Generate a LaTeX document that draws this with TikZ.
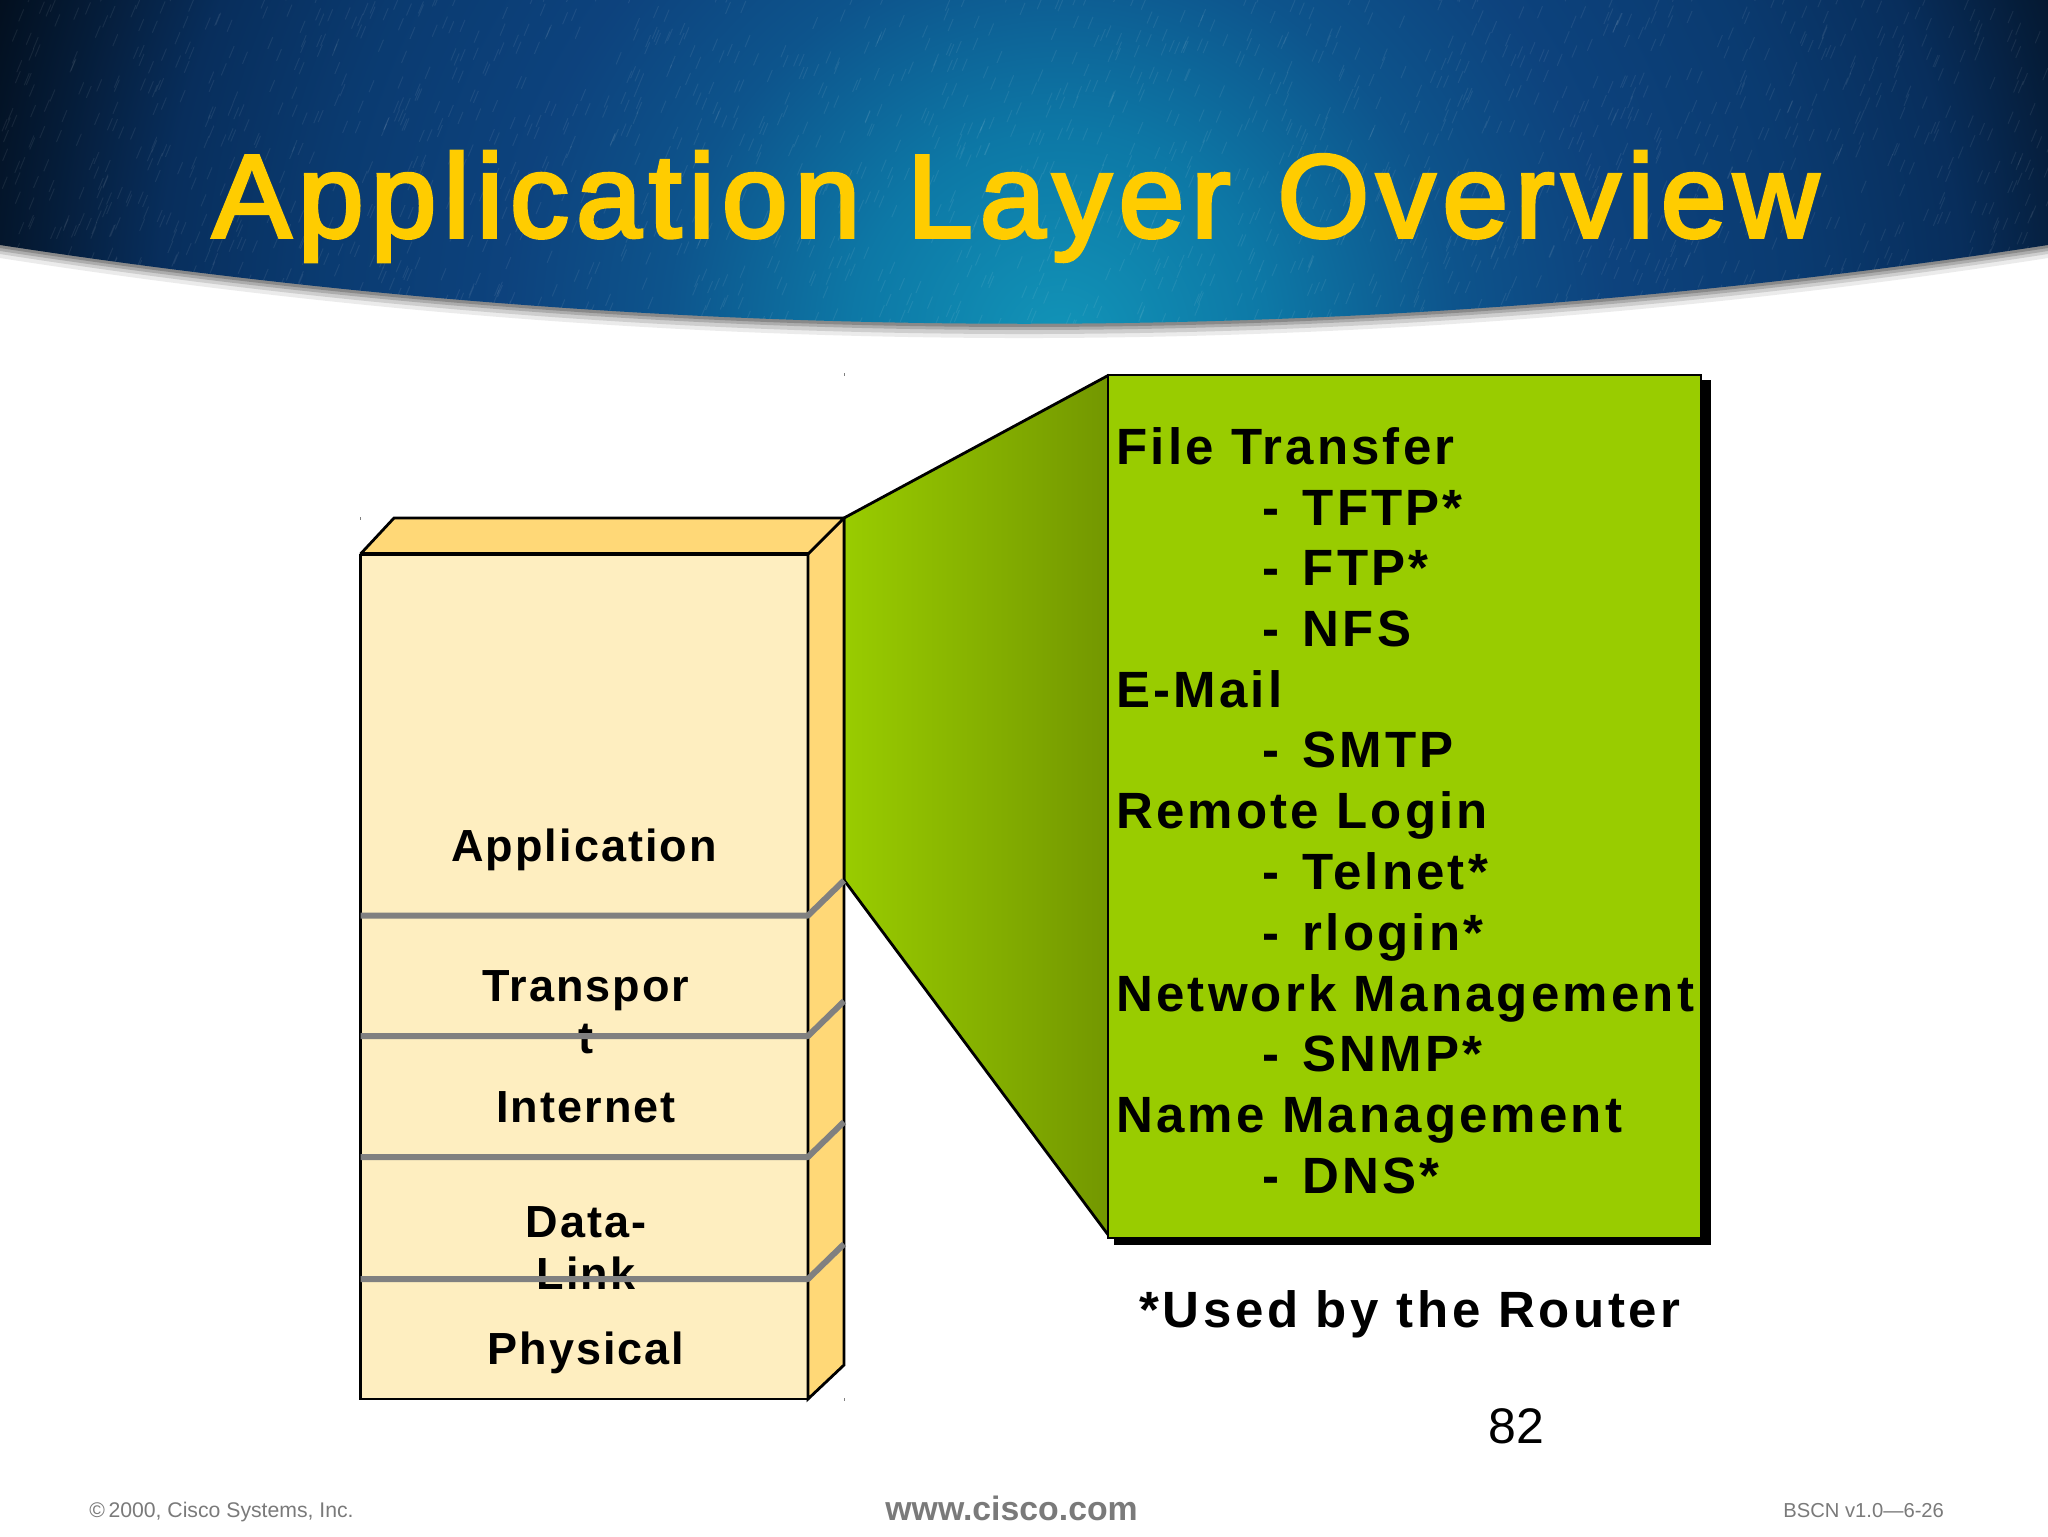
\documentclass[tikz,border=0pt]{standalone}
\usepackage{fontspec}
\setmainfont{Liberation Sans}
\newfontfamily\titlefont[LetterSpace=6,FakeBold=3]{Liberation Sans}
\newfontfamily\lblfont[LetterSpace=4.5]{Liberation Sans}
\newfontfamily\listfont[LetterSpace=6.2]{Liberation Sans}
\newfontfamily\notefont[LetterSpace=7]{Liberation Sans}
\usetikzlibrary{calc}
\newcommand{\dashgap}{-\hspace{3pt} }
\definecolor{hdrgold}{HTML}{FFCC00}
\definecolor{frontc}{HTML}{FEEEC0}
\definecolor{sidec}{HTML}{FFD877}
\definecolor{greenc}{HTML}{99CC00}
\definecolor{greend}{HTML}{739700}
\definecolor{laygray}{HTML}{808080}
\definecolor{footgray}{HTML}{7A7A7A}
\pgfdeclareradialshading{hdrshade}{\pgfpoint{0bp}{0bp}}{
 rgb(0bp)=(0.07,0.58,0.72);
 rgb(4.5bp)=(0.05,0.47,0.65);
 rgb(8.5bp)=(0.05,0.33,0.55);
 rgb(12bp)=(0.05,0.26,0.49);
 rgb(16bp)=(0.04,0.23,0.44);
 rgb(19.5bp)=(0.03,0.18,0.36);
 rgb(22bp)=(0.02,0.11,0.22);
 rgb(24bp)=(0.01,0.06,0.12);
 rgb(50bp)=(0.01,0.05,0.10)}
\tikzset{
 px/.style={x=0.5pt,y=-0.5pt},
 edge/.style={draw=black,line width=1.4pt,line join=miter},
 layerline/.style={draw=laygray,line width=3pt,line join=round},
 lbl/.style={inner sep=0pt,anchor=base,font={\lblfont\bfseries\fontsize{22.5}{22.5}\selectfont}},
 item/.style={inner sep=0pt,anchor=base west,font={\listfont\bfseries\fontsize{25.5}{25.5}\selectfont}},
 foot/.style={inner sep=0pt,anchor=base west,text=footgray},
 tick/.style={draw=gray,line width=0.3pt}
}
\begin{document}
\begin{tikzpicture}[px]
\useasboundingbox (0,0) rectangle (2048,1536);
\fill[white] (0,0) rectangle (2048,1536);
% header shadow
\fill[black,opacity=0.08] (0,258) .. controls (683,364.7) and (1365,364.7) .. (2048,258) -- (2048,0) -- (0,0) -- cycle;
\fill[black,opacity=0.12] (0,254) .. controls (683,360.7) and (1365,360.7) .. (2048,254) -- (2048,0) -- (0,0) -- cycle;
\fill[black,opacity=0.16] (0,251) .. controls (683,356.3) and (1365,356.3) .. (2048,251) -- (2048,0) -- (0,0) -- cycle;
\fill[black,opacity=0.20] (0,248) .. controls (683,353.3) and (1365,353.3) .. (2048,248) -- (2048,0) -- (0,0) -- cycle;
% header
\begin{scope}
\clip (0,245) .. controls (683,350) and (1365,350) .. (2048,245) -- (2048,0) -- (0,0) -- cycle;
\path[shading=hdrshade] (1060,340) circle (1160);
\pgfmathsetseed{42}
\foreach \i in {1,...,1800}{
  \pgfmathsetmacro{\xa}{rnd*2048}
  \pgfmathsetmacro{\ya}{rnd*340}
  \draw[white,opacity=0.07,line width=0.5pt] (\xa,\ya) -- ++(5,-12);
}
\end{scope}
\node[inner sep=0pt,anchor=base west,text=hdrgold,font={\titlefont\fontsize{59}{59}\selectfont}] (title) at (212,237) {Application\hspace{3.5pt} Layer\hspace{3.5pt} Overview};

% funnel
\coordinate (fa) at (844,518);
\coordinate (fb) at (1109,375);
\coordinate (fc) at (1109,1236);
\coordinate (fd) at (844,880);
\begin{scope}
\clip (fa) -- (fb) -- (fc) -- (fd) -- cycle;
\shade[left color=greenc,right color=greend] (844,360) rectangle (1109,1250);
\end{scope}
\draw[edge] (fd) -- (fa) -- (fb);
\draw[edge] (fd) -- (fc);
% box
\fill[black] (1114,380) rectangle (1711,1245);
\node[draw=black,line width=1.4pt,fill=greenc,outer sep=0pt,inner sep=0pt,anchor=north west,minimum width=296.5pt,minimum height=431.5pt] (box) at (1108,375) {};

% stack
\coordinate (fl) at (360.5,554);
\coordinate (fr) at (808,554);
\coordinate (bl) at (394,518);
\coordinate (br) at (844,518);
\coordinate (dl) at (360.5,1399);
\coordinate (dr) at (808,1399);
\coordinate (de) at (844,1365);
\fill[sidec] (fl) -- (bl) -- (br) -- (fr) -- cycle;
\fill[sidec] (fr) -- (br) -- (de) -- (dr) -- cycle;
\fill[frontc] (fl) rectangle (dr);
\draw[edge] (fl) -- (bl) -- (br) -- (fr);
\draw[edge] (br) -- (de) -- (dr) -- (fr);
\draw[edge] (fl) -- (dl) -- (dr);
\draw[draw=black,line width=1.9pt] (fl) -- (fr);

% labels
\node[lbl] (l1) at (584,861) {Application};
\node[lbl] (l2) at (586,1001) {Transpor};
\node[lbl] (l2b) at (586,1053) {t};
\node[lbl] (l3) at (586,1122) {Internet};
\node[lbl] (l4) at (586,1237) {Data-};
\node[lbl] (l4b) at (586,1289) {Link};
\node[lbl] (l5) at (586,1364) {Physical};

% layer lines
\foreach \n/\yy in {a/915.5,b/1036,c/1157,d/1279}{
  \coordinate (p\n1) at (360.5,\yy);
  \coordinate (p\n2) at (808,\yy);
  \coordinate (p\n3) at ($(844,\yy)+(0,-35)$);
  \draw[layerline] (p\n1) -- (p\n2) -- (p\n3);
}

% list
\node[item] (i1) at (1116,464) {File Transfer};
\node[item] (i2) at (1262,525) {\dashgap TFTP*};
\node[item] (i3) at (1262,585) {\dashgap FTP*};
\node[item] (i4) at (1262,646) {\dashgap NFS};
\node[item] (i5) at (1116,707) {E-Mail};
\node[item] (i6) at (1262,767) {\dashgap SMTP};
\node[item] (i7) at (1116,828) {Remote Login};
\node[item] (i8) at (1262,889) {\dashgap Telnet*};
\node[item] (i9) at (1262,950) {\dashgap rlogin*};
\node[item] (i10) at (1116,1011) {Network Management};
\node[item] (i11) at (1262,1071) {\dashgap SNMP*};
\node[item] (i12) at (1116,1132) {Name Management};
\node[item] (i13) at (1262,1193) {\dashgap DNS*};

\node[inner sep=0pt,anchor=base west,font={\notefont\bfseries\fontsize{25.5}{25.5}\selectfont}] (note) at (1139,1327) {*Used by the Router};
\node[inner sep=0pt,anchor=base,font=\fontsize{25}{25}\selectfont] (page) at (1516,1443) {82};

% footer
\node[foot,font=\fontsize{10.6}{10.6}\selectfont] (f1) at (89,1517) {\textcopyright\,2000, Cisco Systems, Inc.};
\node[foot,font={\bfseries\fontsize{16.9}{16.9}\selectfont}] (f2) at (885,1520) {www.cisco.com};
\node[foot,font=\fontsize{10.1}{10.1}\selectfont] (f3) at (1783,1517) {BSCN v1.0---6-26};

% stray ticks
\draw[tick] (844,373) -- (844,376);
\draw[tick] (360,517) -- (360,520);
\draw[tick] (844,1398) -- (844,1401);
\end{tikzpicture}
\end{document}
